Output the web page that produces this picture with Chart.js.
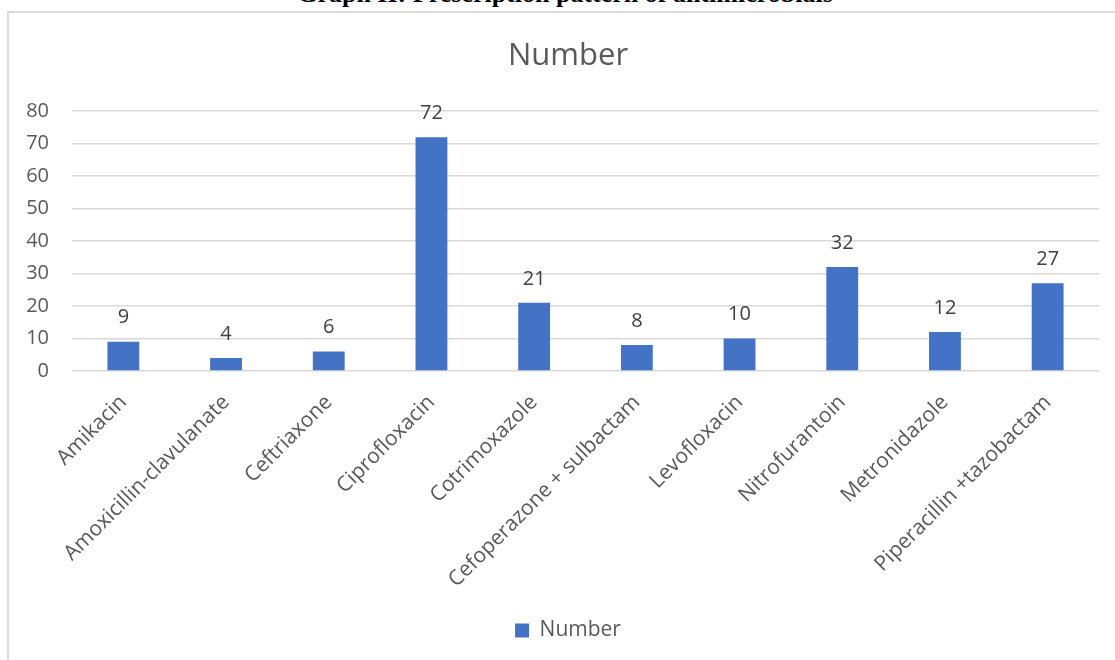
<!DOCTYPE html>
<html>
<head>
<meta charset="utf-8">
<script src="https://cdn.jsdelivr.net/npm/chart.js@4.4.1/dist/chart.umd.min.js"></script>
<style>
  html, body { margin: 0; padding: 0; background: #fff; overflow: hidden; width: 1115px; height: 660px; }
  #caption {
    position: absolute; left: 0; width: 1130px; top: -21px; text-align: center;
    font-family: "Liberation Serif", "Times New Roman", serif; font-weight: bold; font-size: 26px; color: #000;
    white-space: nowrap;
  }
  #frame {
    position: absolute; left: 7px; top: 11px; width: 1200px; height: 800px;
    border: 2px solid #d9d9d9; box-sizing: border-box;
  }
  #chart { position: absolute; left: 0; top: 0; }
</style>
</head>
<body>
<div id="caption">Graph II: Prescription pattern of antimicrobials</div>
<div id="frame"></div>
<!-- the frame runs past the right edge of the page, so the canvas does too -->
<canvas id="chart" width="1136" height="660"></canvas>
<script>
// Antimicrobials prescribed and how often each one was used
const drugNames = [
  "Amikacin",
  "Amoxicillin-clavulanate",
  "Ceftriaxone",
  "Ciprofloxacin",
  "Cotrimoxazole",
  "Cefoperazone + sulbactam",
  "Levofloxacin",
  "Nitrofurantoin",
  "Metronidazole",
  "Piperacillin +tazobactam"
];
const prescriptionCounts = [9, 4, 6, 72, 21, 8, 10, 32, 12, 27];
const seriesName = "Number";
const yTickValues = [0, 10, 20, 30, 40, 50, 60, 70, 80];

const FONT = "'Open Sans', 'Noto Sans', sans-serif";
const GREY = "#595959";

// Writes each bar's value just above it
const valueLabels = {
  id: "valueLabels",
  afterDatasetsDraw(chart) {
    const ctx = chart.ctx;
    const meta = chart.getDatasetMeta(0);
    const values = chart.data.datasets[0].data;
    ctx.save();
    ctx.font = "20px " + FONT;
    ctx.fillStyle = "#404040";
    ctx.textAlign = "center";
    ctx.textBaseline = "middle";
    meta.data.forEach((bar, i) => {
      ctx.fillText(String(values[i]), bar.x, bar.y - 24);
    });
    ctx.restore();
  }
};

new Chart(document.getElementById("chart"), {
  type: "bar",
  data: {
    labels: drugNames,
    datasets: [{
      label: seriesName,
      data: prescriptionCounts,
      backgroundColor: "#4472C4",
      borderWidth: 0,
      categoryPercentage: 1,
      barPercentage: 0.31
    }]
  },
  options: {
    responsive: false,
    animation: false,
    layout: { padding: { top: 0, left: 0, right: 0, bottom: 9 } },
    plugins: {
      title: {
        display: true,
        text: seriesName,
        color: GREY,
        font: { family: FONT, size: 31, weight: "normal", lineHeight: 1.2 },
        padding: { top: 38, bottom: 36 }
      },
      legend: {
        position: "bottom",
        labels: {
          color: GREY,
          font: { family: FONT, size: 21 },
          boxWidth: 14,
          boxHeight: 14,
          padding: 10
        }
      },
      tooltip: { enabled: false }
    },
    scales: {
      x: {
        grid: { display: false, drawTicks: false },
        border: { display: false },
        ticks: {
          color: GREY,
          font: { family: FONT, size: 21 },
          maxRotation: 45,
          minRotation: 45,
          autoSkip: false,
          padding: 19
        },
        afterFit(scale) { scale.height = 239; }
      },
      y: {
        min: 0,
        max: 80,
        afterBuildTicks(scale) { scale.ticks = yTickValues.map(v => ({ value: v })); },
        grid: { color: "#d9d9d9", lineWidth: 1.6, drawTicks: false },
        border: { display: false },
        ticks: {
          color: GREY,
          font: { family: FONT, size: 20 },
          padding: 23
        },
        afterFit(scale) { scale.width = 72; }
      },
      // empty right-hand margin of the plot, no ticks or lines
      yRight: {
        position: "right",
        min: 0,
        max: 80,
        grid: { display: false, drawTicks: false },
        border: { display: false },
        ticks: { display: false },
        afterFit(scale) { scale.width = 37; }
      }
    }
  },
  plugins: [valueLabels]
});
</script>
</body>
</html>
